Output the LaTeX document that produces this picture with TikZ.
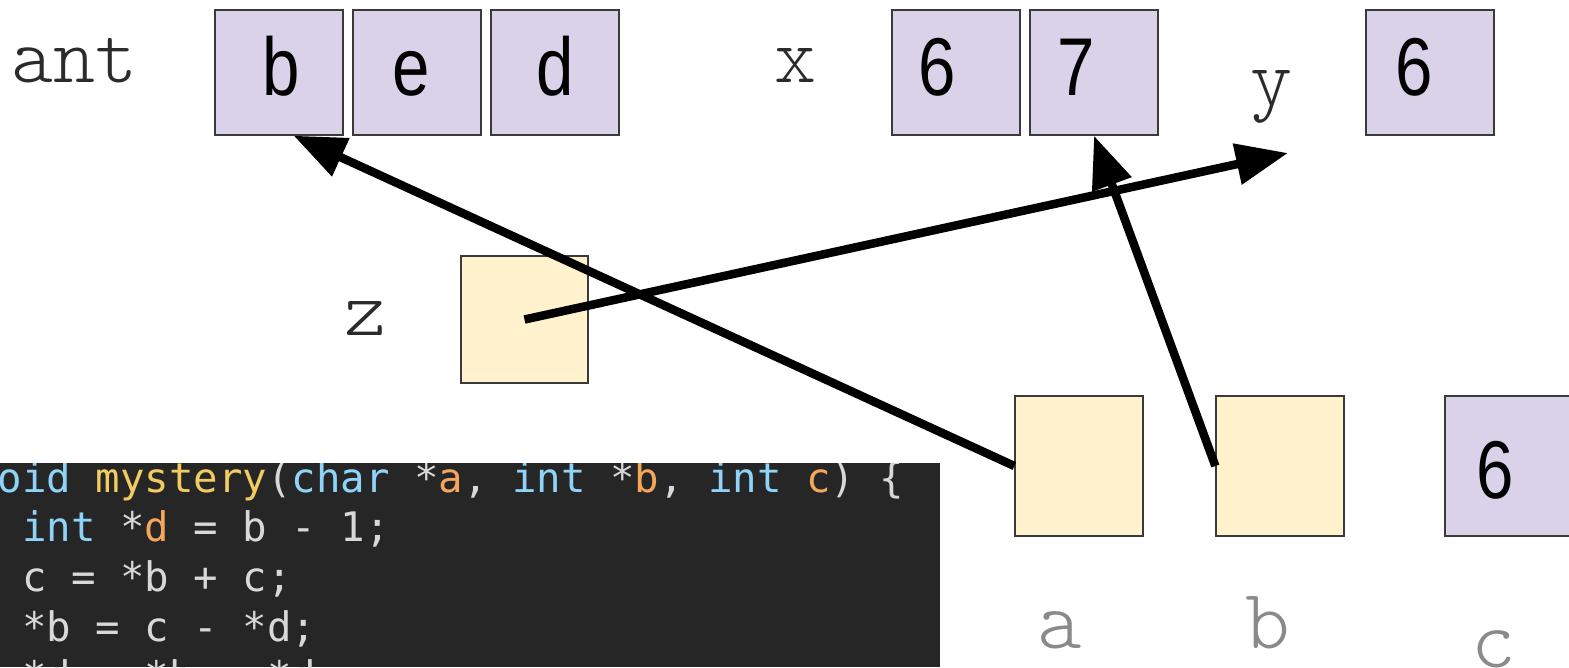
\documentclass[tikz,border=0pt]{standalone}
\usepackage{fontspec}
\usetikzlibrary{arrows.meta}
\newfontfamily\labelfont{Latin Modern Mono Light}
\newfontfamily\codefont{DejaVu Sans Mono}
\newfontfamily\valfont[FakeStretch=0.82]{Liberation Sans}
\definecolor{cell}{HTML}{D9D2E9}
\definecolor{ptr}{HTML}{FFF2CC}
\definecolor{edge}{HTML}{3A3A3A}
\definecolor{codebg}{HTML}{262626}
\definecolor{codefg}{HTML}{D8D8D8}
\definecolor{kw}{HTML}{8FD4F8}
\definecolor{fn}{HTML}{F2CC60}
\definecolor{var}{HTML}{F5A65B}
\definecolor{faint}{HTML}{8A8A8A}
\definecolor{ink}{HTML}{2B2B2B}

\begin{document}
\begin{tikzpicture}[x=1pt,y=-1pt,
  cellbox/.style={draw=edge, line width=1.3pt, fill=cell, minimum width=128pt, minimum height=125pt, inner sep=0pt},
  argbox/.style={cellbox, minimum height=140pt},
  ptrbox/.style={argbox, fill=ptr},
  val/.style={font=\valfont\fontsize{82}{82}\selectfont, anchor=base, inner sep=0pt},
  varname/.style={font=\labelfont\fontsize{80}{80}\selectfont, text=ink, anchor=base, inner sep=0pt},
  argname/.style={font=\labelfont\fontsize{85}{85}\selectfont, text=faint, anchor=base, inner sep=0pt},
  link/.style={line width=8.5pt, -{Triangle[length=52pt,width=40pt]}},
  codeline/.style={font=\codefont\fontsize{40.7}{40.7}\selectfont, text=codefg, anchor=base west, inner sep=0pt}]

\useasboundingbox (0,0) rectangle (1569,667);

% variables in main's frame
\node[varname] (lant) at (75,82) {ant};
\node[cellbox] (ant0) at (279,72.5) {};
\node[cellbox] (ant1) at (417,72.5) {};
\node[cellbox] (ant2) at (555,72.5) {};
\node[val] (vb) at (281,95) {b};
\node[val] (ve) at (411,95) {e};
\node[val] (vd) at (555,95) {d};

\node[varname] (lx) at (795,82) {x};
\node[cellbox] (x0) at (956,72.5) {};
\node[cellbox] (x1) at (1094,72.5) {};
\node[val] (vx0) at (937,95) {6};
\node[val] (vx1) at (1076,95) {7};

\node[varname] (ly) at (1271,104) {y};
\node[cellbox] (y0) at (1430,72.5) {};
\node[val] (vy) at (1414,95) {6};

\node[varname] (lz) at (365,335) {z};
\node[cellbox, fill=ptr, minimum width=127pt, minimum height=127pt] (z) at (524.5,319.5) {};

% mystery's parameters
\node[ptrbox] (a) at (1079,466) {};
\node[ptrbox] (b) at (1280,466) {};
\node[argbox] (c) at (1509,466) {};
\node[val] (vc) at (1495,498) {6};
\node[argname] (la) at (1060,648) {a};
\node[argname] (lb) at (1268,648) {b};
\node[argname] (lc) at (1494,667) {c};

% pointers
\coordinate (ytip) at (1288,153);
\draw[link] (a.west) -- (ant0.283);
\draw[link] (b.west) -- (x1.south);
\draw[link] (z.center) -- (ytip);

% source listing
\fill[codebg] (0,463) rectangle (940,667);
\begin{scope}
  \clip (0,463) rectangle (940,667);
  \node[codeline] (l1) at (-27,492) {\textcolor{kw}{void} \textcolor{fn}{mystery}(\textcolor{kw}{char} *\textcolor{var}{a}, \textcolor{kw}{int} *\textcolor{var}{b}, \textcolor{kw}{int} \textcolor{var}{c}) \{};
  \node[codeline] (l2) at (22,541) {\textcolor{kw}{int} *\textcolor{var}{d} = b - 1;};
  \node[codeline] (l3) at (22,591) {c = *b + c;};
  \node[codeline] (l4) at (22,641) {*b = c - *d;};
  \node[codeline] (l5) at (22,690) {*d = *b - *d;};
\end{scope}
\end{tikzpicture}
\end{document}
